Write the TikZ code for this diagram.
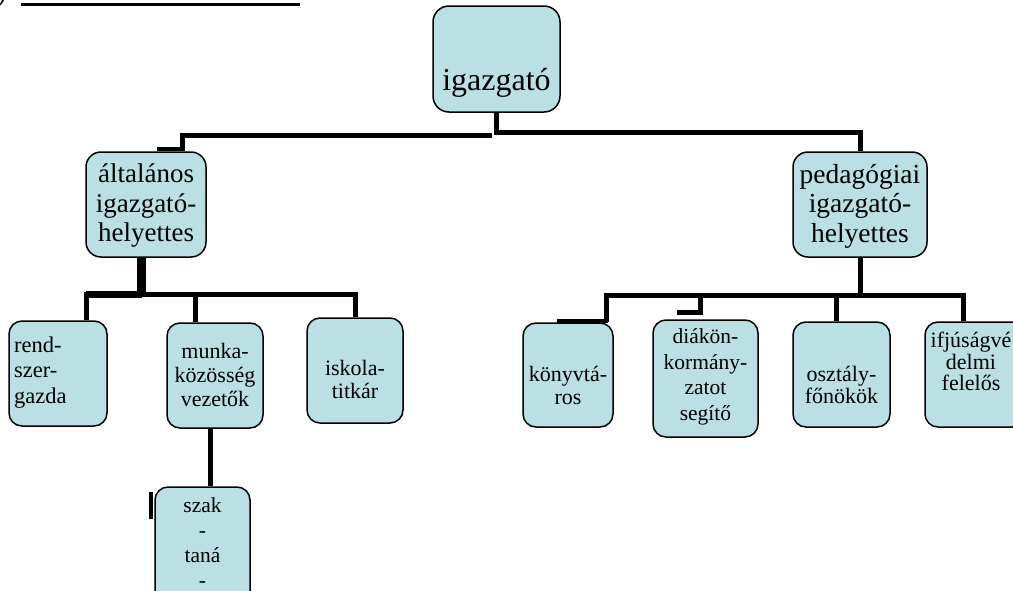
\documentclass[tikz,border=0pt]{standalone}
\usepackage{fontspec}
\setmainfont{Liberation Serif}
\definecolor{boxfill}{RGB}{187,224,227}
\begin{document}
\begin{tikzpicture}[x=1pt,y=-1pt,
  box/.style={draw=black,line width=1.5pt,fill=boxfill,rounded corners=13pt,inner sep=0pt},
  conn/.style={draw=black,line width=5pt},
  stub/.style={draw=black,line width=4pt},
  lbl/.style={inner sep=0pt,align=center,text=black},
  ]
\clip (0,0) rectangle (1013,590);
\fill[white] (0,0) rectangle (1013,590);

% heading remnant
\node[inner sep=0pt,anchor=base west,font=\fontsize{27}{30}\selectfont] (par) at (-3,1) {)};
\draw[line width=3pt] (21,4) -- (300,4);

% boxes
\node[box,minimum width=127pt,minimum height=106pt,rounded corners=16pt] (top) at (496.5,59) {};
\node[box,minimum width=120pt,minimum height=105pt,rounded corners=15pt] (alt) at (146,204.5) {};
\node[box,minimum width=134pt,minimum height=105pt,rounded corners=15pt] (ped) at (860,204.5) {};
\node[box,minimum width=98pt,minimum height=105pt] (rend) at (58,373.5) {};
\node[box,minimum width=96pt,minimum height=105pt] (munka) at (215,375.5) {};
\node[box,minimum width=96pt,minimum height=105pt] (iskola) at (355,370.5) {};
\node[box,minimum width=95pt,minimum height=130pt] (szak) at (202.5,552) {};
\node[box,minimum width=90pt,minimum height=104pt] (konyv) at (568,375) {};
\node[box,minimum width=105pt,minimum height=117pt] (diak) at (705.5,378.5) {};
\node[box,minimum width=97pt,minimum height=105pt] (osz) at (841.5,374.5) {};
\node[box,minimum width=100pt,minimum height=105pt] (ifj) at (975,374.5) {};

% texts
\node[lbl,anchor=base,font=\fontsize{32}{36}\selectfont] (ttop) at (496.5,90) {igazgató};
\node[lbl,font=\fontsize{27}{29.5}\selectfont] (talt) at (146,206) {általános\\igazgató-\\helyettes};
\node[lbl,font=\fontsize{27.5}{29.5}\selectfont] (tped) at (860,206) {pedagógiai\\igazgató-\\helyettes};
\node[lbl,align=left,anchor=west,font=\fontsize{22.5}{25.5}\selectfont] (trend) at (14,372.5) {rend-\\szer-\\gazda};
\node[lbl,font=\fontsize{22}{24}\selectfont] (tmunka) at (215,375) {munka-\\közösség\\vezetők};
\node[lbl,font=\fontsize{22}{22.5}\selectfont] (tiskola) at (355,379.5) {iskola-\\titkár};
\node[lbl,anchor=north,font=\fontsize{21.5}{25}\selectfont] (tszak) at (202.5,497) {szak\\-\\taná\\-};
\node[lbl,font=\fontsize{22}{23}\selectfont] (tkonyv) at (568,385) {könyvtá-\\ros};
\node[lbl,font=\fontsize{21.5}{25.5}\selectfont] (tdiak) at (705.5,377) {diákön-\\kormány-\\zatot\\segítő};
\node[lbl,font=\fontsize{22}{21.5}\selectfont] (tosz) at (841.5,385) {osztály-\\főnökök};
\node[lbl,font=\fontsize{22}{21.5}\selectfont] (tifj) at (971,361.5) {ifjúságvé\\delmi\\felelős};

% level coordinates
\coordinate (lvA) at (0,132);
\coordinate (lvC) at (0,294);
\coordinate (lvD) at (0,295);
\coordinate (lt) at (492,135.5);

% connectors
\draw[conn] (top.south) -- (top.south |- lvA) -| (ped.north);
\draw[conn] (lt) -| ([xshift=36]alt.north);
\draw[stub] ([xshift=11,yshift=2]alt.north) -- ([xshift=36,yshift=2]alt.north);

\draw[conn,line width=9pt] ([xshift=-4.5]alt.south) -- ([xshift=-4.5]alt.south |- lvC);
\draw[conn] ([xshift=28]rend.north) |- (iskola.north |- lvC) -- (iskola.north);
\draw[conn,line width=7pt] ([xshift=28]rend.north |- lvC) -- ([xshift=-4.5]alt.south |- lvC);
\draw[conn] ([xshift=-20]munka.north |- lvC) -- ([xshift=-20]munka.north);
\draw[conn] ([xshift=-5]munka.south) -- ([xshift=-5]munka.south |- szak.north);
\draw[stub] ([xshift=-3,yshift=-6]szak.north west) -- ++(0,27);

\draw[conn] (ped.south) -- (ped.south |- lvD);
\draw[conn] ([xshift=38]konyv.north) |- (ped.south |- lvD) -| ([xshift=-12]ifj.north);
\draw[stub] ([xshift=-11,yshift=1]konyv.north) -- ([xshift=40,yshift=1]konyv.north);
\draw[conn] ([xshift=-5.5]diak.north |- lvD) -- ([xshift=-5.5,yshift=7]diak.north) -- ([xshift=-28.5,yshift=7]diak.north);
\draw[conn] ([xshift=-5.5]osz.north |- lvD) -- ([xshift=-5.5]osz.north);
\end{tikzpicture}
\end{document}
